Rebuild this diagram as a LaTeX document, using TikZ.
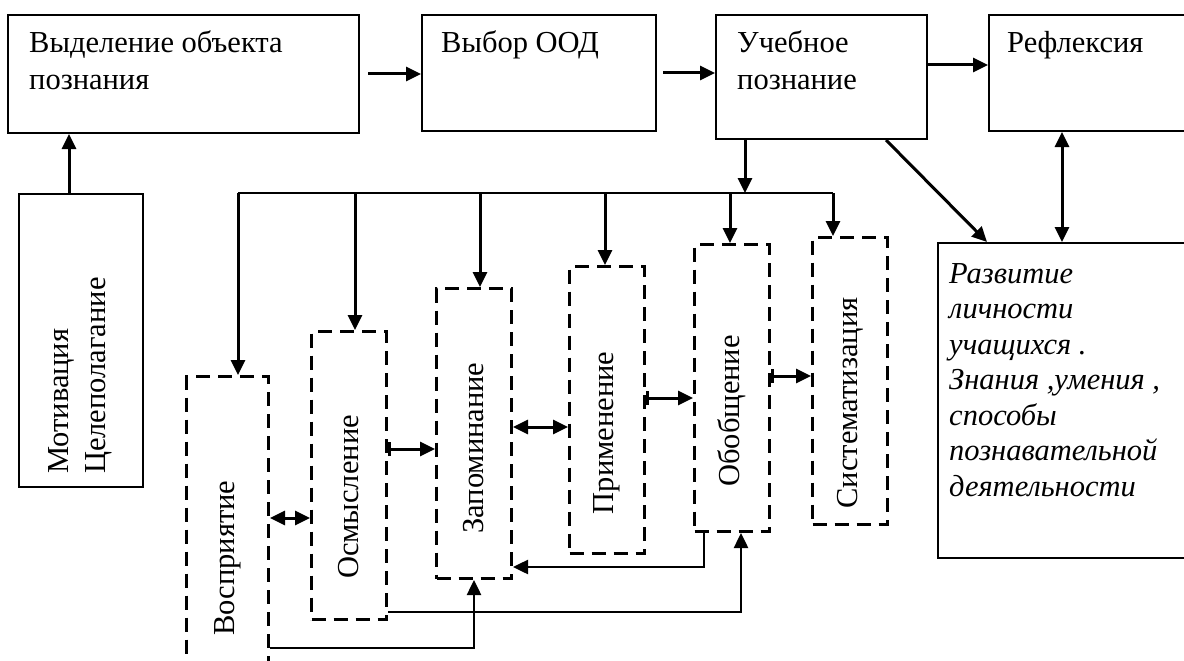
\documentclass[tikz,border=0pt]{standalone}
\usepackage{fontspec}
\setmainfont{Liberation Serif}
\usetikzlibrary{arrows.meta}
\tikzset{
    stage/.style={
           rectangle,
           draw=black, line width=2pt,
           anchor=north west,
           inner sep=0pt,
           },
    phase/.style={
           rectangle,
           draw=black, line width=3pt,
           dash pattern=on 14pt off 8pt,
           anchor=north west,
           inner sep=0pt,
           minimum width=75pt,
           },
    caption/.style={
           anchor=base west,
           align=left,
           inner sep=0pt,
           font=\fontsize{30.5}{37}\selectfont,
           },
    vcaption/.style={
           rotate=90,
           inner sep=0pt,
           font=\fontsize{30.5}{37}\selectfont,
           },
    flow/.style={
           line width=3pt,
           -{Triangle[length=15pt,width=14pt]},
           },
    both/.style={
           line width=3pt,
           {Triangle[length=15pt,width=14pt]}-{Triangle[length=15pt,width=14pt]},
           },
    tflow/.style={
           line width=3pt,
           {Bar[width=14pt]}-{Triangle[length=15pt,width=14pt]},
           },
    feed/.style={
           line width=2.5pt,
           -{Triangle[length=15pt,width=14pt]},
           },
}

\begin{document}
\begin{tikzpicture}[x=1pt,y=-1pt]
 \useasboundingbox (0,0) rectangle (1184,661);
 \clip (0,0) rectangle (1184,661);
 \fill[white] (0,0) rectangle (1184,661);

 % top row of stages
 \node[stage, minimum width=351pt, minimum height=118pt] (Vydel) at (7,14) {};
 \node[stage, minimum width=234pt, minimum height=116pt] (Vybor) at (421,14) {};
 \node[stage, minimum width=211pt, minimum height=124pt] (Ucheb) at (715,14) {};
 \node[stage, minimum width=230pt, minimum height=116pt] (Refl) at (988,14) {};
 % side boxes
 \node[stage, minimum width=124pt, minimum height=293pt] (Motiv) at (18,193) {};
 \node[stage, minimum width=260pt, minimum height=315pt] (Razv) at (937,242) {};

 % texts, top left in each box (base = last line)
 \node[caption] (tVydel) at (29,90) {Выделение объекта\\познания};
 \node[caption] (tVybor) at (441,53) {Выбор ООД};
 \node[caption] (tUcheb) at (737,90) {Учебное\\познание};
 \node[caption] (tRefl) at (1007,53) {Рефлексия};
 \node[caption, rotate=90] (tMotiv) at (105,474) {Мотивация\\Целеполагание};
 \node[caption, font=\itshape\fontsize{30.5}{35.5}\selectfont] (tRazv) at (949,496)
 {Развитие\\личности\\учащихся .\\Знания ,умения ,\\способы\\познавательной\\деятельности};

 % dashed phases of learning
 \node[phase, minimum width=82pt, minimum height=365pt] (Vospr) at (185,375) {};
 \node[phase, minimum height=288pt] (Osmysl) at (310,330) {};
 \node[phase, minimum height=290pt] (Zapom) at (435,287) {};
 \node[phase, minimum height=287pt] (Primen) at (568,265) {};
 \node[phase, minimum height=287pt] (Obobsh) at (693,243) {};
 \node[phase, minimum height=287pt] (Sistem) at (811,236) {};

 \node[vcaption] (lVospr) at (Vospr.center |- 0,558) {Восприятие};
 \node[vcaption] (lOsmysl) at (Osmysl.center |- 0,497) {Осмысление};
 \node[vcaption] (lZapom) at (Zapom.center |- 0,448) {Запоминание};
 \node[vcaption] (lPrimen) at (Primen.center |- 0,433) {Применение};
 \node[vcaption] (lObobsh) at (Obobsh.center |- 0,411) {Обобщение};
 \node[vcaption] (lSistem) at (Sistem.center |- 0,403) {Систематизация};

 % top row arrows
 \draw[flow] ([xshift=-12pt]Motiv.north) -- ([xshift=-12pt]Motiv.north |- Vydel.south);
 \draw[flow] (368,0 |- Vydel.east) -- (Vydel.east -| Vybor.west);
 \draw[flow] (663,0 |- Vybor.east) -- (Vybor.east -| Ucheb.west);
 \draw[flow] (Ucheb.east |- 0,65) -- (Refl.west |- 0,65);

 % bus to the phases
 \coordinate (hub) at (745,193);
 \coordinate (busL) at (238,193);
 \coordinate (busR) at (833,193);
 \draw[flow] (hub |- Ucheb.south) -- (hub);
 \draw[line width=2pt] (busL) -- (busR);
 \foreach \b/\x in {Vospr/238,Osmysl/355,Zapom/480,Primen/605,Obobsh/730,Sistem/833}
   \draw[flow] (\x,193) -- (\x,0 |- \b.north);

 % links between phases
 \draw[both] (Vospr.east |- 0,518) -- (Osmysl.west |- 0,518);
 \draw[tflow] (Osmysl.east |- 0,449) -- (Zapom.west |- 0,449);
 \draw[both] (Zapom.east |- 0,427) -- (Primen.west |- 0,427);
 \draw[tflow] (Primen.east |- 0,398) -- (Obobsh.west |- 0,398);
 \draw[tflow] (Obobsh.east |- 0,376) -- (Sistem.west |- 0,376);

 % feedback lines below
 \draw[feed] (Vospr.east |- 0,648) -| (Zapom.south);
 \draw[feed] (Osmysl.east |- 0,612) -| ([xshift=9pt]Obobsh.south);
 \draw[feed] ([xshift=-28pt]Obobsh.south) |- (Zapom.east |- 0,567);

 % right side
 \draw[flow] (886,0 |- Ucheb.south) -- (987,0 |- Razv.north);
 \draw[both] (1062,0 |- Refl.south) -- (1062,0 |- Razv.north);
\end{tikzpicture}
\end{document}
